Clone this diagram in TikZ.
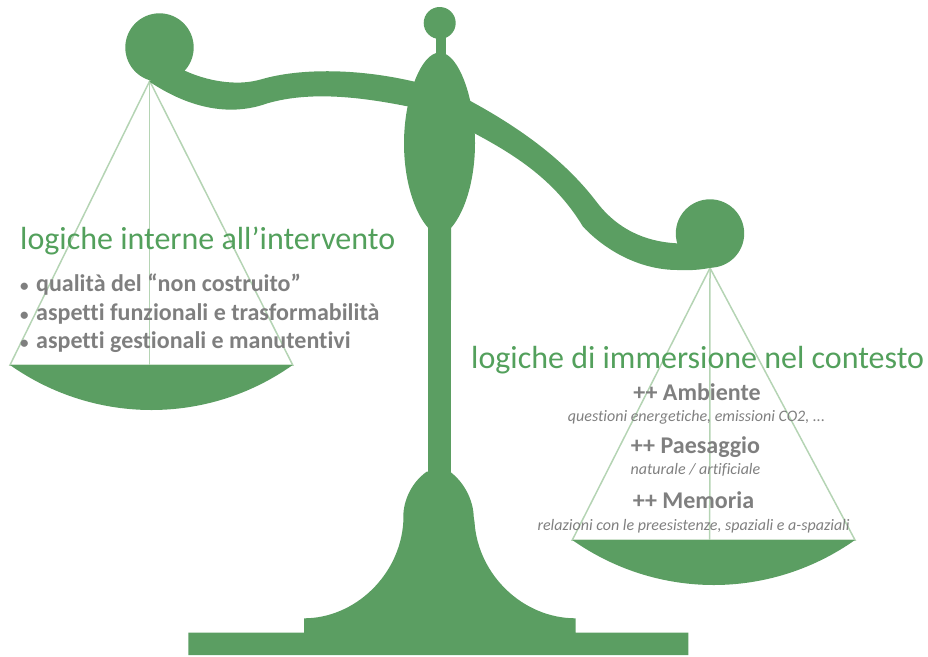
\documentclass[tikz,border=0pt]{standalone}
\usepackage{fontspec}
\setmainfont[Ligatures=NoCommon]{Carlito}
\definecolor{scalegreen}{HTML}{5B9E62}
\definecolor{stringgreen}{HTML}{B5D4B4}
\definecolor{titlegreen}{HTML}{53A05C}
\definecolor{textgray}{HTML}{7F7F7F}
\newcommand{\itembullet}{\makebox[16pt][l]{\fontsize{17}{17}\selectfont •}}
\tikzset{
  body/.style={fill=scalegreen,draw=none},
  cord/.style={draw=stringgreen,line width=1.5pt},
  titletext/.style={inner sep=0pt,text=titlegreen,font=\fontsize{32}{32}\selectfont},
  itemtext/.style={inner sep=0pt,text=textgray,anchor=base west,font=\fontsize{24}{24}\selectfont\bfseries},
  headtext/.style={inner sep=0pt,text=textgray,anchor=base,font=\fontsize{24}{24}\selectfont\bfseries},
  subtext/.style={inner sep=0pt,text=textgray,anchor=base,font=\fontsize{16}{16}\selectfont\itshape},
}
\begin{document}
\begin{tikzpicture}[x=1pt,y=-1pt]
\useasboundingbox (0,0) rectangle (928,656);
% strings
\coordinate (la) at (149.7,81);
\coordinate (ll) at (10,365);
\coordinate (lr) at (292.7,365);
\coordinate (lc) at (149.7,365);
\coordinate (ra) at (710,268);
\coordinate (rl) at (572.3,540);
\coordinate (rr) at (855,540);
\coordinate (rc) at (709.7,540);
\draw[cord] (ll) -- (la) -- (lr) -- cycle;
\draw[cord] (la) -- (lc);
\draw[cord] (rl) -- (ra) -- (rr) -- cycle;
\draw[cord] (ra) -- (rc);
% pans
\fill[body] (ll) .. controls (95,425) and (208,425) .. (lr) -- cycle;
\fill[body] (rl) .. controls (657.5,600) and (770,600) .. (rr) -- cycle;
% left arm
\fill[body] (159.5,47.5) circle (34.2);
\fill[body] (170,60) -- (184.8,70.7) .. controls (205,80) and (235,87) .. (261.4,79.3)
  .. controls (300,68) and (360,68) .. (420,83) -- (420,108) -- (405.7,106)
  .. controls (360,97) and (310,91) .. (267.5,103.3)
  .. controls (232,116) and (192,110) .. (149.5,81.7) -- cycle;
% right arm
\fill[body] (710,233.5) circle (34.2);
\fill[body] (465,98) -- (470.4,101) .. controls (520,128) and (565,160) .. (597.4,203)
  .. controls (620,232) and (650,243) .. (682,243.5) -- (730,240) -- (712,267.5)
  .. controls (700,270) and (690,270.5) .. (677.5,270)
  .. controls (645,270) and (610,255) .. (583,226.7)
  .. controls (555,180) and (515,155) .. (474.5,133.3) -- (465,128) -- cycle;
% centre column
\fill[body] (439.7,23) circle (16);
\fill[body] (435.8,35) rectangle (446,60);
\fill[body] (439.7,52.5) .. controls (459,52.5) and (475,100) .. (475,143) .. controls (475,180) and (465,212) .. (451,228) -- (451,300) -- (428.3,300) -- (428.3,228) .. controls (414,212) and (404,180) .. (404,143) .. controls (404,100) and (420,52.5) .. (439.7,52.5) -- cycle;
\fill[body] (427.5,225) rectangle (450.5,480);
% foot
\fill[body] (426.7,471.7) .. controls (412,482) and (403.3,500) .. (403.3,516.7) -- (403.3,522) .. controls (400,575) and (355,618.3) .. (304,618.3) -- (304,632.7) -- (188.3,632.7) -- (188.3,655) -- (688.3,655) -- (688.3,632.7) -- (575.7,632.7) -- (575.7,618.3) .. controls (523,618.3) and (478,575) .. (474.5,522) -- (473.7,516.7) .. controls (473.3,500) and (464,482) .. (450,471.7) -- cycle;
% texts
\node[titletext,anchor=base west] (t1) at (20,249) {logiche interne all’intervento};
\node[itemtext] (i1) at (20,291) {\itembullet qualità del “non costruito”};
\node[itemtext] (i2) at (20,320) {\itembullet aspetti funzionali e trasformabilità};
\node[itemtext] (i3) at (20,348) {\itembullet aspetti gestionali e manutentivi};
\node[titletext,anchor=base west] (t2) at (471,368) {logiche di immersione nel contesto};
\node[headtext] (h1) at (697,400) {++ Ambiente};
\node[subtext] (s1) at (696.5,421) {questioni energetiche, emissioni CO2, ...};
\node[headtext] (h2) at (695.5,453) {++ Paesaggio};
\node[subtext] (s2) at (695.5,474) {naturale / artificiale};
\node[headtext] (h3) at (693.5,508) {++ Memoria};
\node[subtext] (s3) at (693.6,530) {relazioni con le preesistenze, spaziali e a-spaziali};
\end{tikzpicture}
\end{document}
